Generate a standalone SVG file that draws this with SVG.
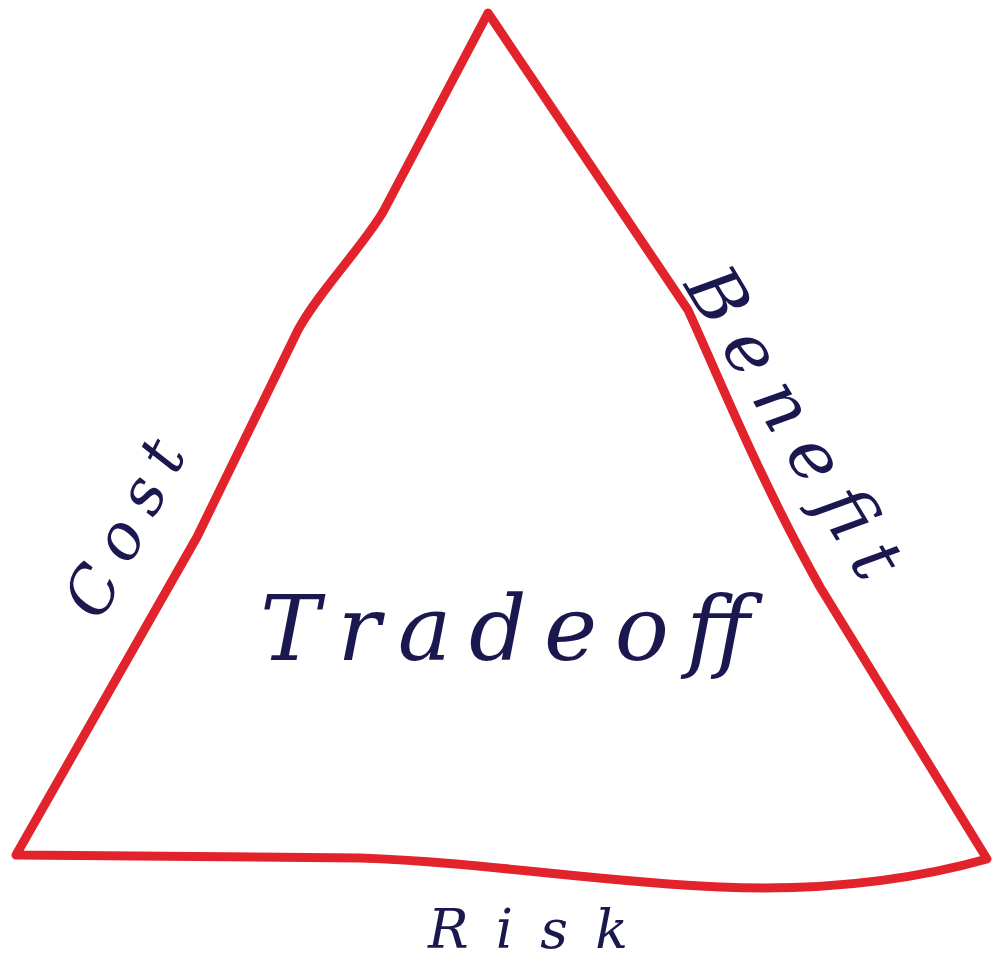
<svg xmlns="http://www.w3.org/2000/svg" width="995" height="966" viewBox="0 0 995 966">
<style>
.edge{fill:none;stroke:#e3232b;stroke-width:9;stroke-linejoin:round;stroke-linecap:round}
.lbl{font-family:"DejaVu Serif","Liberation Serif",serif;font-style:italic;fill:#1b1850;text-anchor:middle}
</style>
<rect width="995" height="966" fill="#ffffff"/>
<g id="triangle">
<path class="edge" d="M488,13 L688,310 C720,380 760,480 820,587 L987,859 C930,875 840,892 720,887 C600,882 480,862 360,858 L16,855 L197,537 L298,330 C320,290 360,250 383,212 Z"/>
</g>
<g id="tradeoff"><text class="lbl" x="505" y="660" font-size="90" textLength="490" lengthAdjust="spacing">Tradeoff</text></g>
<g id="cost"><text class="lbl" transform="translate(128,530) rotate(-63)" y="18" font-size="64" textLength="190" lengthAdjust="spacing">Cost</text></g>
<g id="benefit"><text class="lbl" transform="translate(792,424) rotate(59)" y="22" font-size="72" textLength="350" lengthAdjust="spacing">Benefit</text></g>
<g id="risk"><text class="lbl" x="528" y="948" font-size="54" textLength="200" lengthAdjust="spacing">Risk</text></g>
</svg>
